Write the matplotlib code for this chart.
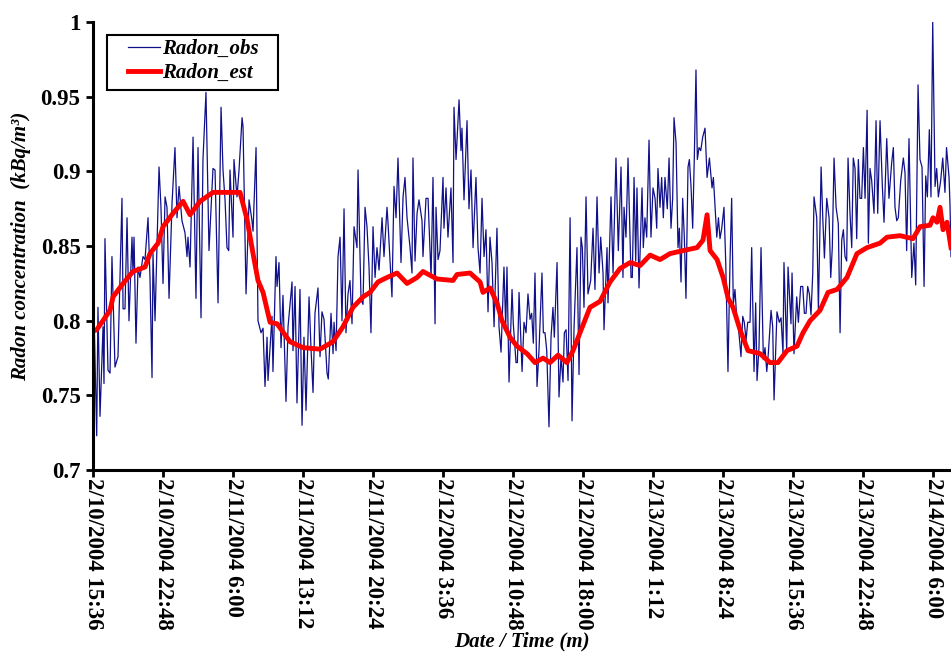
import datetime as dt
import numpy as np
import matplotlib
matplotlib.use("Agg")
import matplotlib.pyplot as plt
from matplotlib.patches import Rectangle

plt.rcParams["font.family"] = ["Liberation Serif", "DejaVu Serif"]
plt.rcParams["font.weight"] = "bold"

START = dt.datetime(2004, 2, 10, 15, 36)

# observed radon, hours after 2/10/2004 15:36
obs_hours = [
    0.10, 0.38, 0.51, 0.72, 1.03, 1.13, 1.23, 1.54, 1.75, 1.95, 2.26,
    2.57, 2.98, 3.09, 3.29, 3.50, 3.70, 4.01, 4.11, 4.22, 4.42,
    4.63, 4.83, 5.14, 5.35, 5.66, 5.86, 6.07, 6.17, 6.38, 6.58,
    6.79, 6.99, 7.20, 7.41, 7.61, 7.82, 8.13, 8.43, 8.64, 8.85,
    9.15, 9.46, 9.67, 9.77, 9.98, 10.29, 10.59, 10.80, 11.11, 11.31,
    11.62, 11.93, 12.34, 12.55, 12.86, 13.17, 13.37, 13.58, 13.78, 13.96,
    14.09, 14.40, 14.50, 14.81, 15.02, 15.33, 15.43, 15.74, 16.05, 16.35,
    16.46, 16.77, 16.97, 17.28, 17.49, 17.69,
    17.90, 18.00, 18.41, 18.51, 18.82, 18.93, 19.13, 19.34, 19.54, 19.85,
    20.06, 20.47, 20.57, 20.78, 20.98, 21.29, 21.50, 21.70, 21.91, 22.22,
    22.42, 22.63, 22.83, 23.14, 23.35, 23.55, 23.76, 24.07, 24.20, 24.48,
    24.69, 24.79, 25.00, 25.20, 25.41, 25.61, 25.82, 26.02, 26.23, 26.43,
    26.64, 26.85, 27.15, 27.26, 27.57, 27.77, 27.98, 28.18, 28.39, 28.59,
    28.80, 29.01, 29.21, 29.42, 29.73, 29.93, 30.24, 30.34, 30.55, 30.75,
    30.96, 31.17, 31.37, 31.68, 31.89, 32.09, 32.30, 32.61, 32.81, 32.91,
    33.12, 33.33, 33.53, 33.84, 33.94, 34.25, 34.46, 34.77, 34.97, 35.18,
    35.28, 35.49, 35.69, 36.00, 36.10, 36.31, 36.51, 36.82, 37.03, 37.13,
    37.34, 37.65, 37.85, 37.95, 38.16, 38.47, 38.67, 38.88, 39.09, 39.39,
    39.60, 39.81, 40.01, 40.22, 40.42, 40.63, 40.83, 41.04, 41.25, 41.55,
    41.76, 41.97, 42.27, 42.45, 42.58, 42.79, 43.10, 43.23, 43.51, 43.65,
    43.82, 44.13, 44.33, 44.54, 44.74, 44.95, 45.12, 45.29, 45.46, 45.67,
    45.87, 46.18, 46.32, 46.49, 46.67, 46.90, 47.11, 47.31, 47.45, 47.73,
    47.93, 48.14, 48.34, 48.48, 48.66, 48.86, 49.07, 49.27, 49.48, 49.78,
    49.99, 50.19, 50.33, 50.50, 50.71, 50.91, 51.19, 51.43, 51.63, 51.84,
    52.05, 52.22, 52.46, 52.56,
    52.87, 52.97, 53.28, 53.49, 53.79, 54.03, 54.31, 54.51, 54.62, 54.82,
    55.03, 55.34, 55.47, 55.65, 55.82, 55.95, 56.16, 56.47, 56.60, 56.77,
    56.95, 57.19, 57.39, 57.60, 57.81, 57.98, 58.11, 58.32, 58.49, 58.66,
    58.83, 59.07, 59.25, 59.45, 59.62, 59.76, 59.97, 60.17, 60.31, 60.48,
    60.65, 60.82, 60.99, 61.20, 61.34, 61.51, 61.68, 61.85, 62.02, 62.16,
    62.33, 62.51, 62.71, 62.95, 63.16, 63.40, 63.67, 63.81, 63.98, 64.16,
    64.33, 64.49, 64.67, 64.90, 65.08, 65.31, 65.52, 65.69, 65.86, 66.03,
    66.21, 66.38, 66.65, 66.83, 66.99, 67.17, 67.34, 67.58, 67.75, 67.99,
    68.16, 68.30, 68.50, 68.71, 68.95, 69.12, 69.30, 69.46, 69.74, 69.91,
    70.05,
    70.35, 70.59, 70.77, 70.97, 71.07, 71.35, 71.49, 71.79, 71.90, 72.10,
    72.38, 72.55, 72.79, 73.00, 73.17, 73.34, 73.51, 73.68, 73.85, 74.03,
    74.16, 74.44, 74.61, 74.89, 75.06, 75.23, 75.47, 75.71, 75.88, 76.04,
    76.22, 76.43, 76.66, 76.84, 77.01, 77.18, 77.35, 77.52, 77.66, 77.86,
    78.04, 78.20, 78.38, 78.55, 78.72, 78.89, 79.06, 79.24, 79.41, 79.62,
    79.75, 79.92, 80.09, 80.33, 80.54, 80.71, 80.95, 81.19, 81.36, 81.64,
    81.87, 82.15, 82.32, 82.49, 82.67, 82.83, 83.08, 83.35, 83.52, 83.69,
    83.93, 84.21, 84.44, 84.62, 84.86, 85.06, 85.27, 85.48, 85.65, 85.82,
    86.02, 86.19, 86.37, 86.61, 86.78, 86.95, 87.19, 87.40, 87.63, 87.79,
    88.05, 88.15, 88.25,
]
obs_vals = [
    0.806, 0.723, 0.809, 0.736, 0.796, 0.758, 0.855, 0.767, 0.765, 0.843, 0.769,
    0.776, 0.882, 0.808, 0.808, 0.869, 0.800, 0.856, 0.832, 0.856, 0.785,
    0.836, 0.829, 0.843, 0.841, 0.869, 0.829, 0.762, 0.845, 0.800, 0.849,
    0.903, 0.876, 0.825, 0.883, 0.876, 0.815, 0.879, 0.916, 0.869, 0.890,
    0.867, 0.859, 0.843, 0.856, 0.836, 0.923, 0.815, 0.916, 0.802, 0.908,
    0.953, 0.847, 0.902, 0.901, 0.812, 0.943, 0.901, 0.881, 0.849, 0.847,
    0.901, 0.856, 0.908, 0.883, 0.901, 0.936, 0.930, 0.818, 0.881, 0.867,
    0.860, 0.916, 0.800, 0.792, 0.795, 0.756,
    0.789, 0.760, 0.803, 0.766, 0.843, 0.823, 0.839, 0.782, 0.817, 0.746,
    0.796, 0.826, 0.780, 0.823, 0.745, 0.821, 0.730, 0.789, 0.740, 0.816,
    0.782, 0.752, 0.805, 0.822, 0.776, 0.806, 0.801, 0.765, 0.761, 0.805,
    0.778, 0.799, 0.780, 0.843, 0.856, 0.800, 0.875, 0.792, 0.818, 0.827,
    0.798, 0.863, 0.849, 0.901, 0.814, 0.811, 0.876, 0.863, 0.836, 0.792,
    0.863, 0.829, 0.849, 0.834, 0.869, 0.843, 0.876, 0.866, 0.840, 0.816,
    0.890, 0.869, 0.909, 0.839, 0.883, 0.896, 0.869, 0.849, 0.832, 0.909,
    0.840, 0.872, 0.881, 0.867, 0.843, 0.882, 0.882, 0.829, 0.896, 0.798,
    0.876, 0.841, 0.847, 0.896, 0.862, 0.889, 0.856, 0.889, 0.839, 0.943,
    0.908, 0.948, 0.914, 0.929, 0.881, 0.934, 0.875, 0.901, 0.849, 0.896,
    0.849, 0.832, 0.882, 0.843, 0.861, 0.806, 0.856, 0.839, 0.796, 0.862,
    0.796, 0.779, 0.836, 0.796, 0.836, 0.759, 0.821, 0.798, 0.772, 0.772,
    0.819, 0.766, 0.799, 0.792, 0.818, 0.801, 0.805, 0.785, 0.832, 0.756,
    0.780, 0.832, 0.792, 0.792, 0.780, 0.729, 0.789, 0.809, 0.789, 0.839,
    0.749, 0.776, 0.759, 0.792, 0.794, 0.760, 0.869, 0.733, 0.796, 0.849,
    0.764, 0.856, 0.849, 0.809, 0.883, 0.818, 0.827, 0.862, 0.821, 0.883,
    0.832, 0.856, 0.832, 0.794,
    0.849, 0.812, 0.883, 0.832, 0.909, 0.847, 0.903, 0.829, 0.876, 0.856,
    0.909, 0.829, 0.829, 0.896, 0.840, 0.889, 0.822, 0.889, 0.849, 0.869,
    0.856, 0.921, 0.856, 0.889, 0.882, 0.862, 0.902, 0.876, 0.896, 0.869,
    0.896, 0.875, 0.909, 0.862, 0.882, 0.936, 0.919, 0.849, 0.862, 0.826,
    0.882, 0.856, 0.815, 0.903, 0.908, 0.890, 0.862, 0.910, 0.968, 0.908,
    0.916, 0.914, 0.923, 0.929, 0.896, 0.909, 0.889, 0.896, 0.876, 0.856,
    0.869, 0.855, 0.862, 0.876, 0.839, 0.766, 0.840, 0.882, 0.811, 0.821,
    0.802, 0.796, 0.776, 0.803, 0.799, 0.787, 0.799, 0.799, 0.849, 0.766,
    0.812, 0.760, 0.782, 0.849, 0.774, 0.782, 0.766, 0.778, 0.807, 0.796,
    0.747,
    0.806, 0.799, 0.802, 0.778, 0.839, 0.780, 0.836, 0.798, 0.832, 0.778,
    0.816, 0.799, 0.823, 0.823, 0.805, 0.805, 0.823, 0.818, 0.804, 0.832,
    0.883, 0.869, 0.807, 0.903, 0.869, 0.842, 0.882, 0.869, 0.829, 0.849,
    0.909, 0.876, 0.865, 0.792, 0.854, 0.861, 0.843, 0.840, 0.909, 0.872,
    0.849, 0.909, 0.902, 0.855, 0.908, 0.882, 0.882, 0.916, 0.882, 0.941,
    0.852, 0.902, 0.894, 0.872, 0.934, 0.872, 0.934, 0.890, 0.866, 0.922,
    0.882, 0.906, 0.916, 0.876, 0.867, 0.869, 0.894, 0.909, 0.899, 0.847,
    0.922, 0.829, 0.852, 0.824, 0.958, 0.908, 0.903, 0.823, 0.897, 0.883,
    0.928, 0.883, 1.000, 0.890, 0.902, 0.883, 0.894, 0.909, 0.886, 0.916,
    0.896, 0.877, 0.843,
]

# estimated radon (smooth curve)
est_hours = [
    0.00, 0.38, 1.75, 2.06, 3.09, 4.11, 5.35, 5.86, 6.69, 7.20,
    8.23, 9.26, 9.98, 11.01, 12.34, 14.09, 15.12, 15.84, 16.46, 16.97,
    17.49, 18.21, 18.93, 20.26, 21.60, 23.35, 24.69, 25.71, 26.74, 27.77,
    28.49, 29.31, 30.24, 31.27, 32.30, 33.33, 33.94, 35.38, 37.03, 37.44,
    38.78, 39.81, 40.11, 40.83, 41.55, 42.07, 42.89, 43.61, 44.64, 45.46,
    46.29, 47.01, 47.83, 48.75, 49.37, 50.09, 51.12, 52.15, 53.18, 54.21,
    55.24, 56.27, 57.30, 58.32, 59.35, 60.69, 62.13, 62.74, 63.16, 63.47,
    64.19, 64.81, 65.33, 65.83, 66.55, 67.37, 68.61, 69.63, 70.45, 71.38,
    72.41, 73.03, 73.75, 74.78, 75.60, 76.53, 77.55, 78.58, 79.61, 80.95,
    81.67, 83.00, 84.34, 85.06, 86.09, 86.40, 86.81, 87.12, 87.43, 87.84,
    88.25,
]
est_vals = [
    0.793, 0.794, 0.807, 0.816, 0.825, 0.833, 0.836, 0.845, 0.852, 0.863,
    0.872, 0.880, 0.871, 0.880, 0.886, 0.886, 0.886, 0.868, 0.845, 0.827,
    0.819, 0.799, 0.798, 0.786, 0.782, 0.781, 0.786, 0.796, 0.809, 0.816,
    0.819, 0.826, 0.829, 0.832, 0.825, 0.829, 0.833, 0.828, 0.827, 0.831,
    0.832, 0.826, 0.819, 0.822, 0.812, 0.800, 0.789, 0.783, 0.778, 0.772,
    0.775, 0.772, 0.777, 0.772, 0.780, 0.792, 0.809, 0.813, 0.826, 0.835,
    0.839, 0.837, 0.844, 0.841, 0.845, 0.847, 0.849, 0.854, 0.871, 0.847,
    0.841, 0.829, 0.815, 0.809, 0.794, 0.780, 0.778, 0.772, 0.772, 0.780,
    0.783, 0.792, 0.800, 0.807, 0.819, 0.821, 0.829, 0.845, 0.849, 0.852,
    0.856, 0.857, 0.855, 0.863, 0.864, 0.869, 0.866, 0.876, 0.861, 0.866,
    0.849,
]

tick_hours = np.arange(0, 88, 7.2)
tick_labels = []
for h in tick_hours:
    t = START + dt.timedelta(hours=float(h))
    tick_labels.append(f"{t.month}/{t.day}/{t.year} {t.hour}:{t.minute:02d}")

fig = plt.figure(figsize=(9.51, 6.52), dpi=100)
ax = fig.add_axes([0.0978, 0.279, 0.9022, 0.687])

ax.plot(obs_hours, obs_vals, color="#10108a", lw=0.9, label="Radon_obs")
ax.plot(est_hours, est_vals, color="#ff0000", lw=3.5, label="Radon_est")

ax.set_xlim(0, 88.25)
ax.set_ylim(0.7, 1.0)
ax.set_yticks([0.7, 0.75, 0.8, 0.85, 0.9, 0.95, 1.0])
ax.set_yticklabels(["0.7", "0.75", "0.8", "0.85", "0.9", "0.95", "1"],
                   fontsize=16.5, fontweight="bold")
ax.set_xticks(tick_hours)
ax.set_xticklabels(tick_labels, rotation=-90, fontsize=16.5, fontweight="bold",
                   ha="center", va="top")

ax.tick_params(axis="both", direction="out", length=5, width=2)
ax.tick_params(axis="x", pad=1)
ax.tick_params(axis="y", pad=4)
for side in ["top", "right"]:
    ax.spines[side].set_visible(False)
for side in ["left", "bottom"]:
    ax.spines[side].set_linewidth(2.2)

ax.set_ylabel("Radon concentration  (kBq/m³)", fontsize=15,
              fontweight="bold", fontstyle="italic")
ax.yaxis.set_label_coords(-0.072, 0.5)
ax.set_xlabel("Date / Time (m)", fontsize=15, fontweight="bold",
              fontstyle="italic", va="baseline")
ax.xaxis.set_label_coords(0.5, -0.393)

# legend frame drawn separately so the side padding matches
ax.add_patch(Rectangle((0.0163, 0.848), 0.1993, 0.123, transform=ax.transAxes,
                       fill=True, facecolor="white", edgecolor="black",
                       lw=1.5, zorder=4))
leg = ax.legend(loc="upper left", bbox_to_anchor=(0.0408, 0.962),
                borderaxespad=0, borderpad=0, frameon=False,
                handlelength=1.55, handletextpad=0.1, labelspacing=0.2,
                prop={"size": 15, "weight": "bold", "style": "italic"})
leg.set_zorder(5)

fig.savefig("out.png", dpi=100)
